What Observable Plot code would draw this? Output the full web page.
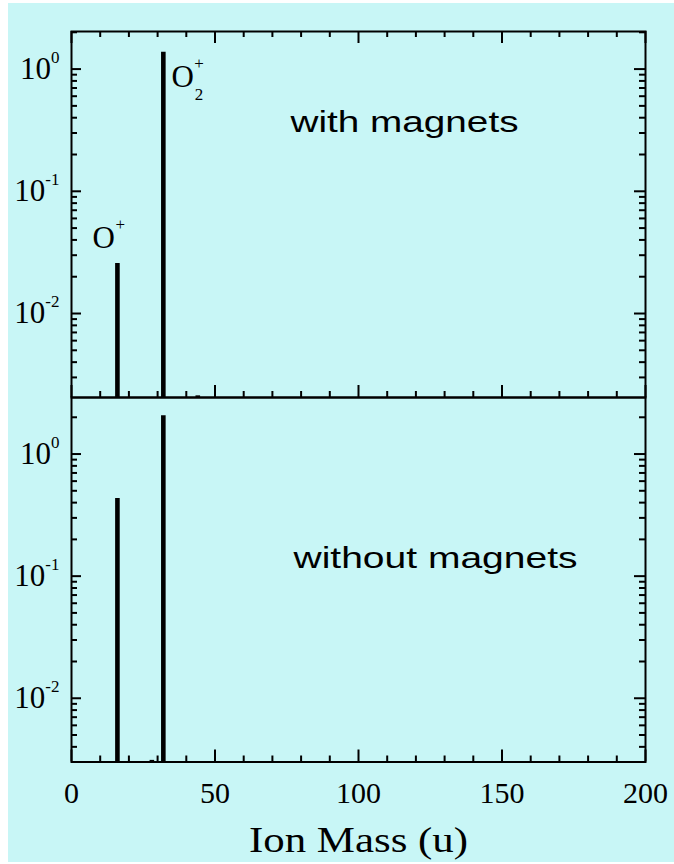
<!DOCTYPE html>
<html>
<head>
<meta charset="utf-8">
<script src="https://cdn.jsdelivr.net/npm/d3@7"></script>
<script src="https://cdn.jsdelivr.net/npm/@observablehq/plot@0.6"></script>
<style>
  html, body { margin: 0; padding: 0; background: #ffffff; }
  #wrap { position: relative; width: 674px; height: 864px; overflow: hidden; color: #000; }
  #bg { position: absolute; left: 8px; top: 3px; width: 666px; height: 859px; background: #c8f6f6; }
  #top, #bottom { position: absolute; left: 0; }
  #top { top: 0; }
  #bottom { top: 394px; }
</style>
</head>
<body>
<div id="wrap"><div id="bg"></div><div id="top"></div><div id="bottom"></div></div>
<script>
// ---- data ----
const topMass = [16, 32, 44];
const topValue = [0.0257, 1.37, 0.00212];
const bottomMass = [16, 28, 32];
const bottomValue = [0.433, 0.0031, 2.06];

const xMajor = [0, 50, 100, 150, 200];
const xMinor = [10, 20, 30, 40, 60, 70, 80, 90, 110, 120, 130, 140, 160, 170, 180, 190];
const yDecades = [0.01, 0.1, 1];
const yMinor = [0.002, 0.003, 0.004, 0.005, 0.006, 0.007, 0.008, 0.009,
  0.02, 0.03, 0.04, 0.05, 0.06, 0.07, 0.08, 0.09,
  0.2, 0.3, 0.4, 0.5, 0.6, 0.7, 0.8, 0.9, 2];

const xDomain = [0, 200];
const yTopDomain = [0.002055, 2.03];
const yBottomDomain = [0.003006, 2.904];

const ionLabels = ["O", "O"];
const ionLabelMass = [11.25, 38.7];
const ionLabelValue = [0.0412, 0.865];
const ionSup = ["+", "+"];
const ionSubText = ["2"];

const panelTitles = ["with magnets", "without magnets"];
const panelTitleMass = [76.3, 77.35];
const panelTitleValue = [0.363, 0.140];
const xLabel = "Ion Mass (u)";

const serif = "'Liberation Serif', 'Times New Roman', serif";
const sans = "'Liberation Sans', Arial, sans-serif";

const topData = topMass.map((m, i) => ({mass: m, value: topValue[i]}));
const bottomData = bottomMass.map((m, i) => ({mass: m, value: bottomValue[i]}));
const ionData = ionLabels.map((t, i) => ({text: t, mass: ionLabelMass[i], value: ionLabelValue[i], sup: ionSup[i]}));

const W = 674, ML = 71, MR = 29;
const PW = W - ML - MR; // plot-area width in px

// inward frame ticks, drawn as short rules whose lengths are pixel lengths converted to data units
function frameAxes(domain, ph, withTopTicks, withXLabels) {
  const minorY = yMinor.filter(v => v >= domain[0] && v <= domain[1]);
  const xu = px => px * (xDomain[1] - xDomain[0]) / PW;            // px -> x units
  const decPx = ph / Math.log10(domain[1] / domain[0]);              // px per decade
  const yf = px => Math.pow(10, px / decPx);                          // px -> log factor
  const st = {stroke: "black", strokeWidth: 2};
  const marks = [
    Plot.ruleY(minorY, {y: d => d, x1: xDomain[0], x2: xDomain[0] + xu(6), ...st}),
    Plot.ruleY(yDecades, {y: d => d, x1: xDomain[0], x2: xDomain[0] + xu(10), ...st}),
    Plot.ruleY(minorY, {y: d => d, x1: xDomain[1] - xu(6), x2: xDomain[1], ...st}),
    Plot.ruleY(yDecades, {y: d => d, x1: xDomain[1] - xu(11), x2: xDomain[1], ...st}),
    Plot.ruleX(xMinor, {x: d => d, y1: domain[0], y2: domain[0] * yf(6), ...st}),
    Plot.ruleX(xMajor, {x: d => d, y1: domain[0], y2: domain[0] * yf(12), ...st}),
    Plot.axisY({anchor: "left", ticks: yDecades, tickSize: 0, tickPadding: 12, fontSize: 31, fontFamily: serif,
      tickFormat: d => `10|${Math.round(Math.log10(d))}`, label: null})
  ];
  if (withTopTicks) {
    marks.push(Plot.ruleX(xMinor, {x: d => d, y1: domain[1] / yf(6), y2: domain[1], ...st}));
    marks.push(Plot.ruleX(xMajor, {x: d => d, y1: domain[1] / yf(12), y2: domain[1], ...st}));
  }
  if (withXLabels) {
    marks.push(Plot.axisX({anchor: "bottom", ticks: xMajor, tickSize: 0, tickPadding: 20, fontSize: 30, fontFamily: serif, label: null}));
  }
  return marks;
}

function superscripts(svg) {
  d3.select(svg).selectAll('g[aria-label="y-axis tick label"] text').each(function () {
    const t = d3.select(this);
    const s = t.text();
    if (!s.includes("|")) return;
    const [base, exp] = s.split("|");
    t.text(null);
    t.append("tspan").text(base);
    t.append("tspan").attr("dy", -16).attr("font-size", 17).text(exp);
  });
}

function stretch(svg, content, len) {
  d3.select(svg).selectAll("text").filter(function () { return this.textContent === content; })
    .attr("textLength", len).attr("lengthAdjust", "spacingAndGlyphs");
}

const H1 = 400, MT1 = 31, MB1 = 3;
const p1 = Plot.plot({
  width: W, height: H1,
  marginTop: MT1, marginBottom: MB1, marginLeft: ML, marginRight: MR,
  style: {background: "transparent", overflow: "visible", color: "black"},
  x: {domain: xDomain, label: null, axis: null},
  y: {type: "log", domain: yTopDomain, label: null},
  marks: [
    Plot.ruleX(topData, {x: "mass", y1: yTopDomain[0], y2: "value", stroke: "black", strokeWidth: 4.6}),
    ...frameAxes(yTopDomain, H1 - MT1 - MB1, true, false),
    Plot.frame({stroke: "black", strokeWidth: 2}),
    Plot.text(ionData, {x: "mass", y: "value", text: "text", fontSize: 31, fontFamily: serif, fill: "black", lineAnchor: "middle"}),
    Plot.text(ionData, {x: "mass", y: "value", text: "sup", fontSize: 17, fontFamily: serif, fill: "black", dx: 16.5, dy: -13.5, lineAnchor: "middle"}),
    Plot.text(ionData.slice(1), {x: "mass", y: "value", text: () => ionSubText[0], fontSize: 17, fontFamily: serif, fill: "black", dx: 16.5, dy: 18, lineAnchor: "middle"}),
    Plot.text([panelTitles[0]], {x: () => panelTitleMass[0], y: () => panelTitleValue[0], text: d => d, fontSize: 30, fontFamily: sans, fill: "black", textAnchor: "start", lineAnchor: "middle"})
  ]
});

const H2 = 470, MT2 = 3, MB2 = 102.5;
const p2 = Plot.plot({
  width: W, height: H2,
  marginTop: MT2, marginBottom: MB2, marginLeft: ML, marginRight: MR,
  style: {background: "transparent", overflow: "visible", color: "black"},
  x: {domain: xDomain, label: null},
  y: {type: "log", domain: yBottomDomain, label: null},
  marks: [
    Plot.ruleX(bottomData, {x: "mass", y1: yBottomDomain[0], y2: "value", stroke: "black", strokeWidth: 4.6}),
    ...frameAxes(yBottomDomain, H2 - MT2 - MB2, false, true),
    Plot.frame({stroke: "black", strokeWidth: 2}),
    Plot.text([panelTitles[1]], {x: () => panelTitleMass[1], y: () => panelTitleValue[1], text: d => d, fontSize: 30, fontFamily: sans, fill: "black", textAnchor: "start", lineAnchor: "middle"}),
    Plot.text([xLabel], {frameAnchor: "bottom", text: d => d, dy: 78.5, fontSize: 36, fontFamily: serif, fill: "black", lineAnchor: "middle"})
  ]
});

superscripts(p1);
superscripts(p2);
stretch(p1, panelTitles[0], 228);
stretch(p2, panelTitles[1], 284);
stretch(p2, xLabel, 219);

document.getElementById("top").appendChild(p1);
document.getElementById("bottom").appendChild(p2);
</script>
</body>
</html>
